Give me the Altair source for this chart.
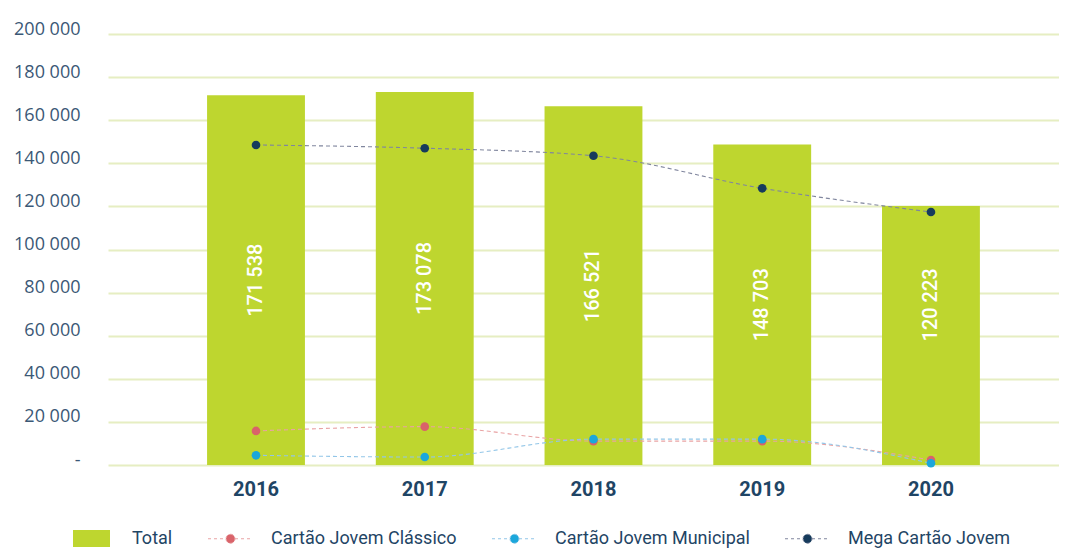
import altair as alt
import pandas as pd

years = ["2016", "2017", "2018", "2019", "2020"]
total = [171538, 173078, 166521, 148703, 120223]
classico = [15800, 17800, 11100, 11100, 2300]
municipal = [4500, 3700, 12000, 12000, 800]
mega = [148500, 147000, 143500, 128400, 117400]

bar_name = ["Total"]
bar_color = ["#BED62F"]
line_names = ["Cartão Jovem Clássico", "Cartão Jovem Municipal", "Mega Cartão Jovem"]
dot_colors = ["#D9636A", "#1BA7DB", "#163B5C"]
line_colors = ["#E9A3A4", "#92C6E8", "#80869E"]
y_ticks = [0, 20000, 40000, 60000, 80000, 100000, 120000, 140000, 160000, 180000, 200000]

FONT = "Roboto"

df_total = pd.DataFrame({"year": years, "value": total, "series": bar_name[0]})
rows = []
for name, vals in zip(line_names, [classico, municipal, mega]):
    for yr, v in zip(years, vals):
        rows.append({"year": yr, "value": v, "series": name})
df_lines = pd.DataFrame(rows)

x_enc = alt.X(
    "year:O",
    title=None,
    scale=alt.Scale(paddingInner=0.42, paddingOuter=0.528, align=0.556),
    axis=alt.Axis(
        labelAngle=0, labelFont=FONT, labelFontWeight="bold", labelFontSize=20,
        labelColor="#1F4565", labelPadding=14, domain=False, ticks=False, grid=False,
    ),
)
y_enc = alt.Y(
    "value:Q",
    title=None,
    scale=alt.Scale(domain=[0, 200000], nice=False),
    axis=alt.Axis(
        values=y_ticks, labelFont="Open Sans", labelFontSize=18, labelColor="#3B5876",
        labelPadding=28, labelBaseline="alphabetic", domain=False, ticks=False,
        gridColor="#E6EEC2", gridWidth=1.8,
        labelExpr="datum.value == 0 ? '-' : replace(format(datum.value, ',d'), ',', ' ')",
    ),
)

rect_path = "M-1.85,-0.85H1.85V0.85H-1.85Z"
line_path = "M-2.25,0H-0.45M0.45,0H2.25M-0.45,0A0.45,0.45 0 1,0 0.45,0A0.45,0.45 0 1,0 -0.45,0Z"

common = dict(
    title=None, orient="none", direction="horizontal", symbolSize=400,
    labelOffset=30, columnPadding=33, labelFont=FONT, labelFontSize=18,
    labelColor="#1F4565", labelLimit=0, symbolStrokeWidth=1, symbolOpacity=1, legendY=494,
)
bar_legend = alt.Legend(legendX=-27, symbolType=rect_path, **common)
line_legend = alt.Legend(legendX=112, symbolType=line_path, symbolDash=[3, 3], **common)

bars = alt.Chart(df_total).mark_bar().encode(
    x=x_enc, y=y_enc,
    fill=alt.Fill("series:N", scale=alt.Scale(domain=bar_name, range=bar_color), legend=bar_legend),
)

labels = alt.Chart(df_total).transform_calculate(
    lab_y="max(datum.value / 2, 74300)",
    txt="replace(format(datum.value, ',d'), ',', ' ')",
).mark_text(angle=270, color="#FFFFFF", font=FONT, fontSize=20, fontWeight=500,
            align="center", baseline="middle").encode(
    x=alt.X("year:O"), y=alt.Y("lab_y:Q"), text="txt:N",
)

lines = alt.Chart(df_lines).mark_line(
    strokeDash=[4, 3], strokeWidth=1.1, interpolate="monotone"
).encode(
    x="year:O", y="value:Q",
    stroke=alt.Stroke("series:N", scale=alt.Scale(domain=line_names, range=line_colors), legend=line_legend),
)

points = alt.Chart(df_lines).mark_circle(size=75, opacity=1).encode(
    x="year:O", y="value:Q",
    color=alt.Color("series:N", scale=alt.Scale(domain=line_names, range=dot_colors), legend=line_legend),
)

chart = alt.layer(bars, labels, lines, points).properties(
    width=951, height=431,
    padding={"left": 100, "top": 26, "right": 0, "bottom": 86},
    autosize=alt.AutoSizeParams(type="none"),
).configure_view(stroke=None)

chart.save("out.html", embed_options={"renderer": "svg", "actions": False})
